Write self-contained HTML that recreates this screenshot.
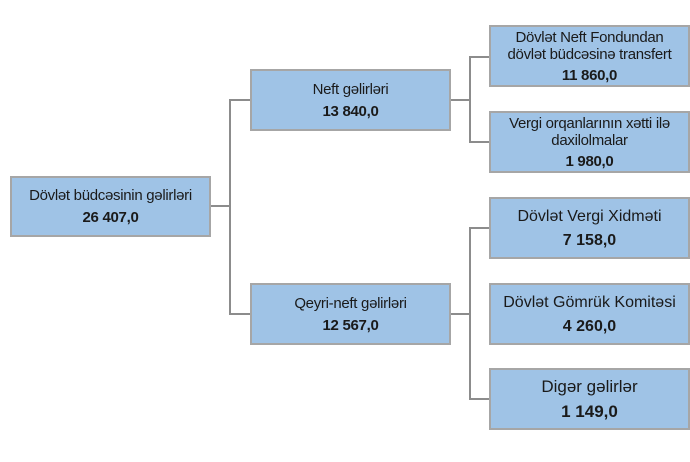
<!DOCTYPE html>
<html><head><meta charset="utf-8"><style>
body{margin:0;width:690px;height:462px;background:#fff;position:relative;font-family:"Liberation Sans",sans-serif;color:#1a1a1a;overflow:hidden}
.b{position:absolute;box-sizing:border-box;background:#9fc3e6;border:2px solid #a6a6a6;text-align:center;display:flex;flex-direction:column;justify-content:center;align-items:center;font-size:15px;line-height:17px;letter-spacing:-0.3px}
.b b{display:block;margin-top:5px}
.l{position:absolute;background:#8c8c8c}
</style></head><body>
<div class="l" style="left:210px;top:205px;width:21px;height:2px"></div>
<div class="l" style="left:229px;top:99px;width:2px;height:216px"></div>
<div class="l" style="left:229px;top:99px;width:22px;height:2px"></div>
<div class="l" style="left:229px;top:313px;width:22px;height:2px"></div>
<div class="l" style="left:450px;top:99px;width:21px;height:2px"></div>
<div class="l" style="left:469px;top:56px;width:2px;height:87px"></div>
<div class="l" style="left:469px;top:56px;width:21px;height:2px"></div>
<div class="l" style="left:469px;top:141px;width:21px;height:2px"></div>
<div class="l" style="left:450px;top:313px;width:21px;height:2px"></div>
<div class="l" style="left:469px;top:227px;width:2px;height:173px"></div>
<div class="l" style="left:469px;top:227px;width:21px;height:2px"></div>
<div class="l" style="left:469px;top:398px;width:21px;height:2px"></div>

<div class="b" style="left:10px;top:176px;width:201px;height:61px">Dövlət büdcəsinin gəlirləri<b>26 407,0</b></div>
<div class="b" style="left:250px;top:69px;width:201px;height:62px">Neft gəlirləri<b>13 840,0</b></div>
<div class="b" style="left:250px;top:283px;width:201px;height:62px">Qeyri-neft gəlirləri<b>12 567,0</b></div>
<div class="b" style="left:489px;top:25px;width:201px;height:62px;line-height:17px">Dövlət Neft Fondundan<br>dövlət büdcəsinə transfert<b style="margin-top:4px">11 860,0</b></div>
<div class="b" style="left:489px;top:111px;width:201px;height:62px;line-height:17px">Vergi orqanlarının xətti ilə<br>daxilolmalar<b style="margin-top:4px">1 980,0</b></div>
<div class="b" style="left:489px;top:197px;width:201px;height:62px;font-size:16px;line-height:19px;letter-spacing:0">Dövlət Vergi Xidməti<b>7 158,0</b></div>
<div class="b" style="left:489px;top:283px;width:201px;height:62px;font-size:16px;line-height:19px;letter-spacing:0">Dövlət Gömrük Komitəsi<b>4 260,0</b></div>
<div class="b" style="left:489px;top:368px;width:201px;height:62px;font-size:17px;line-height:20px;letter-spacing:0">Digər gəlirlər<b>1 149,0</b></div>
</body></html>
